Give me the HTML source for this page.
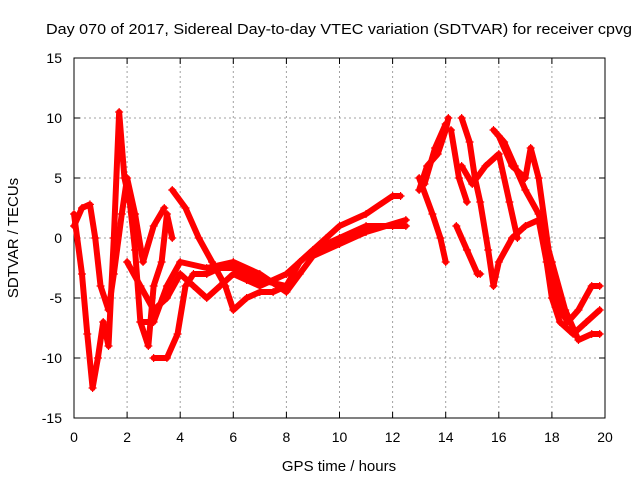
<!DOCTYPE html>
<html><head><meta charset="utf-8"><style>
body{margin:0;background:#fff;}
svg{display:block;font-family:"Liberation Sans",sans-serif;}
</style></head><body>
<svg id="chart" width="640" height="480" viewBox="0 0 640 480" xmlns="http://www.w3.org/2000/svg">
<rect width="640" height="480" fill="#fff"/>
<text x="46" y="34" font-size="15" textLength="586" lengthAdjust="spacingAndGlyphs">Day 070 of 2017, Sidereal Day-to-day VTEC variation (SDTVAR) for receiver cpvg</text>
<g id="grid"></g>
<g id="axes"></g>
<g id="series"></g>
<text x="339" y="471" font-size="15" text-anchor="middle">GPS time / hours</text>
<text x="18" y="238" font-size="15" text-anchor="middle" transform="rotate(-90 18 238)">SDTVAR / TECUs</text>
</svg>
<script>
const xTicks=[0,2,4,6,8,10,12,14,16,18,20];
const yTicks=[-15,-10,-5,0,5,10,15];
const traceA=[[0,2],[0.3,-3],[0.5,-8],[0.7,-12.5],[0.9,-10],[1.1,-7],[1.3,-9],[1.5,0],[1.7,10.5],[1.9,5],[2.1,3],[2.3,-1],[2.5,-7],[2.8,-9],[3.0,-4],[3.3,-2],[3.5,2],[3.7,0]];
const traceB=[[0,1],[0.3,2.5],[0.6,2.8],[0.8,0],[1.0,-4],[1.3,-6],[1.5,-3],[1.8,2],[2.0,5],[2.3,2],[2.6,-2],[3.0,1],[3.4,2.5]];
const traceC=[[3.7,4],[4.2,2.5],[4.7,0],[5.2,-2],[5.7,-4],[6,-6],[6.5,-5],[7,-4.5],[7.5,-4.5],[8,-4],[8.5,-2],[9,-1],[9.5,0],[10,1],[11,2],[12,3.5],[12.3,3.5]];
const traceD=[[2,-2],[2.5,-4],[3,-6],[3.5,-5],[4,-3],[4.5,-4],[5,-5],[5.5,-4],[6,-3],[6.5,-3.5],[7,-4],[8,-3],[9,-1],[10,0],[11,1],[12,1],[12.5,1]];
const traceE=[[2.5,-7],[3,-7],[3.5,-4],[4,-2],[5,-2.5],[6,-2],[7,-3],[8,-4.5],[8.5,-3],[9,-1.5],[10,-0.5],[11,0.5],[12.5,1.5]];
const traceF=[[3,-10],[3.5,-10],[3.9,-8],[4.2,-4],[4.5,-3],[5,-3],[5.5,-2.5],[6,-2.5],[7,-3.5],[8,-4]];
const traceG=[[13,4],[13.3,6],[13.7,7],[14,9],[14.1,10]];
const traceH=[[13,5],[13.5,2],[13.8,0],[14,-2]];
const traceH2=[[13.2,4.5],[13.6,7.5],[14,9.5]];
const traceI=[[14.6,10],[14.9,8],[15.1,5],[15.3,3],[15.6,-1],[15.8,-4]];
const traceJ=[[14.4,1],[14.8,-1],[15.2,-3],[15.3,-3]];
const traceK=[[14.6,6],[15,4.5],[15.5,6],[16,7],[16.4,3],[16.7,0]];
const traceL=[[15.8,-4],[16,-2],[16.5,0],[17,1],[17.5,1.5],[17.8,-2],[18,-5],[18.3,-7],[18.8,-8],[19.3,-7],[19.8,-6]];
const traceM=[[16,8.5],[16.5,6],[17,5],[17.2,7.5],[17.5,5],[18,-3],[18.3,-6],[18.6,-7],[19,-6],[19.5,-4],[19.8,-4]];
const traceN=[[15.8,9],[16.2,8],[16.6,6],[17,4],[17.5,2],[18,-2],[18.5,-6],[19,-8.5],[19.5,-8],[19.8,-8]];
const traceO=[[14.2,9],[14.5,5],[14.8,3]];
const traces=[traceA,traceB,traceC,traceD,traceE,traceF,traceG,traceH,traceH2,traceI,traceJ,traceK,traceL,traceM,traceN,traceO];
const X0=74,X1=605,Y0=418,Y1=58;
const xs=v=>X0+(v-0)/20*(X1-X0);
const ys=v=>Y0-(v+15)/30*(Y0-Y1);
const NS="http://www.w3.org/2000/svg";
function mk(t,a,p){const e=document.createElementNS(NS,t);for(const k in a)e.setAttribute(k,a[k]);p.appendChild(e);return e;}
const grid=document.getElementById('grid'),axes=document.getElementById('axes'),series=document.getElementById('series');
xTicks.forEach(v=>{
  const x=xs(v);
  if(v>0&&v<20){const l=mk('line',{x1:x,y1:Y0,x2:x,y2:Y1,stroke:'#a0a0a0','stroke-dasharray':'2,3','stroke-width':1},grid);
  }
  mk('line',{x1:x,y1:Y0,x2:x,y2:Y0-6,stroke:'#000'},axes);
  mk('line',{x1:x,y1:Y1,x2:x,y2:Y1+6,stroke:'#000'},axes);
  const t=mk('text',{x:x,y:Y0+24,'font-size':14,'text-anchor':'middle'},axes);t.textContent=v;
  
});
yTicks.forEach(v=>{
  const y=ys(v);
  if(v>-15&&v<15){const l=mk('line',{x1:X0,y1:y,x2:X1,y2:y,stroke:'#a0a0a0','stroke-dasharray':'2,3','stroke-width':1},grid);
  }
  mk('line',{x1:X0,y1:y,x2:X0+6,y2:y,stroke:'#000'},axes);
  mk('line',{x1:X1,y1:y,x2:X1-6,y2:y,stroke:'#000'},axes);
  const t=mk('text',{x:X0-12,y:y+5,'font-size':14,'text-anchor':'end'},axes);t.textContent=v;
  
});
const frame=mk('rect',{x:X0,y:Y1,width:X1-X0,height:Y0-Y1,fill:'none',stroke:'#000'},axes);


traces.forEach((tr,i)=>{
  const pl=mk('polyline',{points:tr.map(p=>xs(p[0])+','+ys(p[1])).join(' '),fill:'none',stroke:'#ff0000','stroke-width':6,'stroke-linejoin':'round','stroke-linecap':'round'},series);
  
  
  tr.forEach(p=>{
    const x=xs(p[0]),y=ys(p[1]);
    const m=mk('path',{d:`M${x-4},${y}H${x+4}M${x},${y-4}V${y+4}`,stroke:'#ff0000','stroke-width':1.2},series);
    
    
  });
});
</script>
</body></html>
